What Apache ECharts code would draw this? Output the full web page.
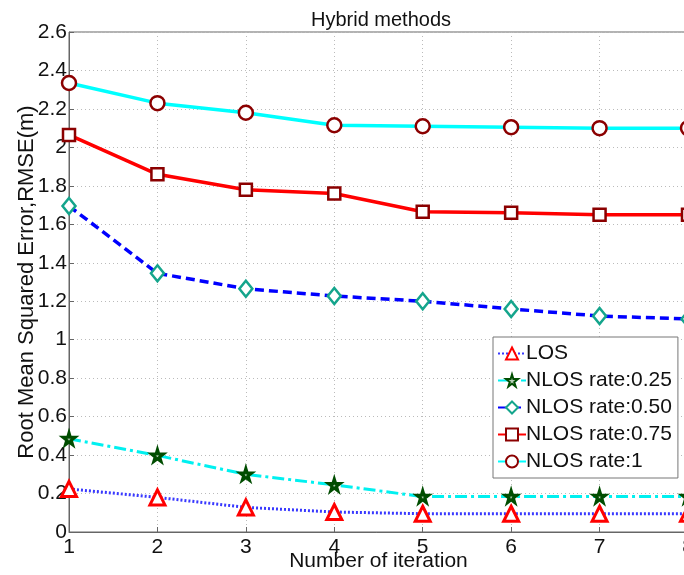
<!DOCTYPE html>
<html>
<head>
<meta charset="utf-8">
<title>Hybrid methods</title>
<script src="https://cdn.jsdelivr.net/npm/echarts@6/dist/echarts.min.js"></script>
<style>
  html, body { margin: 0; padding: 0; background: #fff; }
  #chart { width: 684px; height: 575px; }
</style>
</head>
<body>
<div id="chart"></div>
<script>
// iterations on the x axis
const iterations = [1, 2, 3, 4, 5, 6, 7, 8];

// RMSE values
const losRmse = [0.224, 0.180, 0.128, 0.104, 0.095, 0.095, 0.095, 0.095];
const nlos025Rmse = [0.485, 0.398, 0.300, 0.245, 0.184, 0.184, 0.184, 0.184];
const nlos050Rmse = [1.695, 1.345, 1.265, 1.227, 1.200, 1.160, 1.123, 1.108];
const nlos075Rmse = [2.065, 1.860, 1.780, 1.760, 1.665, 1.660, 1.650, 1.650];
const nlos100Rmse = [2.335, 2.230, 2.180, 2.115, 2.110, 2.105, 2.100, 2.100];

const seriesNames = ['LOS', 'NLOS rate:0.25', 'NLOS rate:0.50', 'NLOS rate:0.75', 'NLOS rate:1'];

const FONT = 'Liberation Sans, Arial, sans-serif';
const STAR = 'path://M50,0 L61,35 L98,35 L68,57 L79,91 L50,70 L21,91 L32,57 L2,35 L39,35 Z';

function pairs(values) {
  return iterations.map((x, i) => [x, values[i]]);
}

const chart = echarts.init(document.getElementById('chart'));

const option = {
  backgroundColor: '#fff',
  animation: false,
  title: {
    text: 'Hybrid methods',
    left: 376,
    top: 5,
    textAlign: 'center',
    textStyle: { fontFamily: FONT, fontSize: 20, fontWeight: 'normal', color: '#111' }
  },
  grid: {
    left: 69,
    top: 32,
    width: 619,
    height: 500,
    outerBoundsMode: 'none',
    containLabel: false,
    show: true,
    borderColor: '#666',
    borderWidth: 1
  },
  legend: {
    left: 493,
    top: 337,
    orient: 'vertical',
    backgroundColor: '#fff',
    borderColor: '#777',
    borderWidth: 1,
    padding: [6, 6, 6, 4],
    itemGap: 6,
    itemWidth: 28,
    itemHeight: 15,
    textStyle: { fontFamily: FONT, fontSize: 21, color: '#111', padding: [0, 0, 0, -5] },
    data: seriesNames
  },
  xAxis: {
    type: 'value',
    min: 1,
    max: 8,
    interval: 1,
    name: 'Number of iteration',
    nameLocation: 'middle',
    nameGap: 19,
    nameMoveOverlap: false,
    nameTextStyle: { fontFamily: FONT, fontSize: 21, color: '#111' },
    axisLine: { lineStyle: { color: '#666' } },
    axisTick: { inside: true, length: 5, lineStyle: { color: '#666' } },
    axisLabel: { fontFamily: FONT, fontSize: 21, color: '#111', margin: 5 },
    splitLine: { show: true, lineStyle: { color: '#bbb', type: [1, 3] } }
  },
  yAxis: {
    type: 'value',
    min: 0,
    max: 2.6,
    interval: 0.2,
    name: 'Root Mean Squared Error,RMSE(m)',
    nameLocation: 'middle',
    nameGap: 31,
    nameMoveOverlap: false,
    nameTextStyle: { fontFamily: FONT, fontSize: 22, color: '#111' },
    axisLine: { show: true, lineStyle: { color: '#666' } },
    axisTick: { show: true, inside: true, length: 5, lineStyle: { color: '#666' } },
    axisLabel: { fontFamily: FONT, fontSize: 21, color: '#111', margin: 2 },
    splitLine: { show: true, lineStyle: { color: '#bbb', type: [1, 3] } }
  },
  series: [
    {
      name: seriesNames[0],
      type: 'line',
      data: pairs(losRmse),
      symbol: 'triangle',
      symbolSize: 15,
      lineStyle: { color: '#3838ff', width: 3, type: [2, 2] },
      itemStyle: { color: '#fff', borderColor: '#ff0000', borderWidth: 3 },
      z: 5
    },
    {
      name: seriesNames[1],
      type: 'line',
      data: pairs(nlos025Rmse),
      symbol: STAR,
      symbolSize: 12,
      lineStyle: { color: '#00f0f0', width: 3, type: [12, 4, 3, 4] },
      itemStyle: { color: '#b8d0b8', borderColor: '#004d00', borderWidth: 3 },
      z: 4
    },
    {
      name: seriesNames[2],
      type: 'line',
      data: pairs(nlos050Rmse),
      symbol: 'diamond',
      symbolSize: [13, 16],
      lineStyle: { color: '#0000ff', width: 3.5, type: [9, 5] },
      itemStyle: { color: '#fff', borderColor: '#14a58c', borderWidth: 2.5 },
      z: 3
    },
    {
      name: seriesNames[3],
      type: 'line',
      data: pairs(nlos075Rmse),
      symbol: 'rect',
      symbolSize: 12,
      lineStyle: { color: '#ff0000', width: 3.5 },
      itemStyle: { color: '#fff', borderColor: '#8b0000', borderWidth: 2.5 },
      z: 3
    },
    {
      name: seriesNames[4],
      type: 'line',
      data: pairs(nlos100Rmse),
      symbol: 'circle',
      symbolSize: 14,
      lineStyle: { color: '#00ffff', width: 3.5 },
      itemStyle: { color: '#fff', borderColor: '#8b0000', borderWidth: 2.5 },
      z: 3
    }
  ]
};

chart.setOption(option);
</script>
</body>
</html>
